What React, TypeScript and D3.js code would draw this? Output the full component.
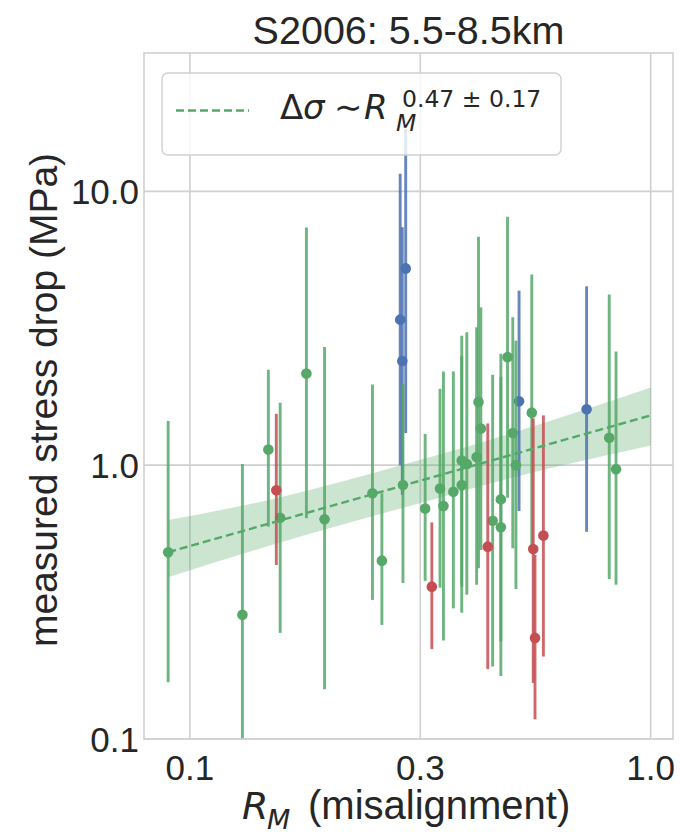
import React from "react";
import * as d3 from "d3";

// ---------- data ----------
// green series: x (R_M), y (stress drop), lower & upper error bar ends
const greenX = [0.0897, 0.130, 0.148, 0.157, 0.179, 0.196, 0.249, 0.261, 0.290, 0.324, 0.349, 0.355, 0.373, 0.389, 0.389, 0.399, 0.419, 0.423, 0.428, 0.454, 0.473, 0.473, 0.489, 0.502, 0.510, 0.552, 0.813, 0.841];
const greenY = [0.481, 0.284, 1.14, 0.643, 2.16, 0.634, 0.789, 0.448, 0.846, 0.695, 0.822, 0.709, 0.80, 0.846, 1.04, 1.01, 1.07, 1.70, 1.36, 0.627, 0.75, 0.593, 2.48, 1.31, 1.0, 1.555, 1.26, 0.967];
const greenLo = [0.161, 0.085, 0.596, 0.244, 0.64, 0.152, 0.322, 0.261, 0.371, 0.378, 0.357, 0.229, 0.30, 0.289, 0.36, 0.336, 0.366, 0.42, 0.49, 0.184, 0.227, 0.17, 0.76, 0.497, 0.353, 0.49, 0.384, 0.366];
const greenHi = [1.45, 1.01, 2.23, 1.69, 7.38, 2.70, 1.97, 0.789, 1.98, 1.30, 1.90, 2.2, 2.2, 2.5, 2.97, 3.06, 3.19, 6.83, 3.77, 2.14, 2.55, 2.1, 8.07, 3.47, 2.85, 4.97, 4.2, 2.60];

const blueX = [0.294, 0.286, 0.289, 0.518, 0.726];
const blueY = [5.23, 3.40, 2.40, 1.71, 1.60];
const blueLo = [1.31, 1.0, 0.78, 0.68, 0.571];
const blueHi = [16.9, 11.6, 7.4, 4.34, 4.5];

const redX = [0.154, 0.335, 0.443, 0.556, 0.561, 0.585];
const redY = [0.81, 0.360, 0.504, 0.494, 0.234, 0.553];
const redLo = [0.432, 0.213, 0.18, 0.16, 0.118, 0.20];
const redHi = [1.54, 0.618, 1.42, 1.48, 0.47, 1.52];

// power-law fit line and its confidence band
const fitX = [0.0897, 1.0];
const fitY = [0.481, 1.52];
const bandX = [0.0897, 0.15, 0.3, 0.5, 1.0];
const bandLo = [0.39, 0.51, 0.71, 0.90, 1.18];
const bandHi = [0.63, 0.75, 1.02, 1.31, 1.92];

// ticks
const xTickValues = [0.1, Math.pow(10, -0.5), 1.0];
const xTickLabels = ["0.1", "0.3", "1.0"];
const yTickValues = [0.1, 1, 10];
const yTickLabels = ["0.1", "1.0", "10.0"];

const titleText = "S2006: 5.5-8.5km";
const legendExponent = "0.47 ± 0.17";

// ---------- layout ----------
const W = 680;
const H = 837;
const L = 144, R = 673, T = 53, B = 739;

const GREEN = "#55a868";
const BLUE = "#4c72b0";
const RED = "#c44e52";
const GRID = "#d0d0d0";
const TXT = "#262626";
const SANS = "'Liberation Sans', Arial, Helvetica, sans-serif";
const MATH = "'DejaVu Sans', sans-serif";

export default function App() {
  const x = d3.scaleLog().domain([0.0795, 1.118]).range([L, R]);
  const y = d3.scaleLog().domain([0.1, 32]).range([B, T]);

  const bandData = bandX.map((v, i) => ({ x: v, lo: bandLo[i], hi: bandHi[i] }));
  const area = d3
    .area<{ x: number; lo: number; hi: number }>()
    .x((d) => x(d.x))
    .y0((d) => y(d.lo))
    .y1((d) => y(d.hi))
    .curve(d3.curveMonotoneX);
  const fitLine = d3
    .line<number>()
    .x((d) => x(d))
    .y((_, i) => y(fitY[i]));

  const series = [
    { xs: blueX, ys: blueY, lo: blueLo, hi: blueHi, c: BLUE },
    { xs: greenX, ys: greenY, lo: greenLo, hi: greenHi, c: GREEN },
    { xs: redX, ys: redY, lo: redLo, hi: redHi, c: RED },
  ];

  return (
    <div style={{ position: "absolute", left: 0, top: 0 }}>
      <svg width={W} height={H} style={{ display: "block", background: "#fff" }}>
        <defs>
          <clipPath id="plotclip">
            <rect x={L} y={T} width={R - L} height={B - T} />
          </clipPath>
        </defs>
        {/* title */}
        <text x={(L + R) / 2} y={44} textAnchor="middle" fontFamily={SANS} fontSize={39.5} fill={TXT}>
          {titleText}
        </text>

        {/* grid */}
        {xTickValues.map((v, i) => (
          <line key={"gx" + i} x1={x(v)} x2={x(v)} y1={T} y2={B} stroke={GRID} strokeWidth={1.6} />
        ))}
        {yTickValues.map((v, i) => (
          <line key={"gy" + i} x1={L} x2={R} y1={y(v)} y2={y(v)} stroke={GRID} strokeWidth={1.6} />
        ))}

        <g clipPath="url(#plotclip)">
          {/* band */}
          <path d={area(bandData) || ""} fill={GREEN} fillOpacity={0.3} stroke="none" />
          {/* error bars + markers */}
          {series.map((s, si) => (
            <g key={"s" + si}>
              {s.xs.map((v, i) => (
                <line
                  key={"e" + i}
                  x1={x(v)}
                  x2={x(v)}
                  y1={y(Math.max(s.lo[i], 0.05))}
                  y2={y(s.hi[i])}
                  stroke={s.c}
                  strokeWidth={2.9}
                  strokeOpacity={0.85}
                />
              ))}
              {s.xs.map((v, i) => (
                <circle key={"m" + i} cx={x(v)} cy={y(s.ys[i])} r={5.3} fill={s.c} />
              ))}
            </g>
          ))}
          {/* fit line */}
          <path
            d={fitLine(fitX) || ""}
            fill="none"
            stroke={GREEN}
            strokeWidth={2.4}
            strokeDasharray="8,4"
          />
        </g>

        {/* frame */}
        <rect x={L} y={T} width={R - L} height={B - T} fill="none" stroke={GRID} strokeWidth={1.6} />

        {/* y tick labels */}
        {yTickValues.map((v, i) => (
          <text
            key={"yl" + i}
            x={139}
            y={y(v)}
            dy="0.36em"
            textAnchor="end"
            fontFamily={SANS}
            fontSize={35}
            fill={TXT}
          >
            {yTickLabels[i]}
          </text>
        ))}
        {/* x tick labels */}
        {xTickValues.map((v, i) => (
          <text
            key={"xl" + i}
            x={x(v)}
            y={780}
            textAnchor="middle"
            fontFamily={SANS}
            fontSize={35}
            fill={TXT}
          >
            {xTickLabels[i]}
          </text>
        ))}

        {/* axis labels */}
        <text
          transform={`translate(57, ${(T + B) / 2 + 4}) rotate(-90)`}
          textAnchor="middle"
          fontFamily={SANS}
          fontSize={39}
          fill={TXT}
        >
          measured stress drop (MPa)
        </text>
        <text x={242} y={819} fontFamily={MATH} fontStyle="italic" fontSize={38} fill={TXT}>
          R
        </text>
        <text x={267} y={829} fontFamily={MATH} fontStyle="italic" fontSize={27} fill={TXT}>
          M
        </text>
        <text x={308} y={819} fontFamily={SANS} fontSize={40} fill={TXT}>
          (misalignment)
        </text>

        {/* legend */}
        <rect
          x={162}
          y={73}
          width={399}
          height={82}
          rx={6}
          ry={6}
          fill="#ffffff"
          fillOpacity={0.8}
          stroke={GRID}
          strokeWidth={1.4}
        />
        <line x1={176} x2={249} y1={110.5} y2={110.5} stroke={GREEN} strokeWidth={2.4} strokeDasharray="8,4" />
        <text x={280} y={119} fontFamily={MATH} fontSize={34} fill={TXT}>
          Δ
        </text>
        <text x={303} y={119} fontFamily={MATH} fontStyle="italic" fontSize={34} fill={TXT}>
          σ
        </text>
        <text x={334} y={119} fontFamily={MATH} fontSize={34} fill={TXT}>
          ∼
        </text>
        <text x={364} y={119} fontFamily={MATH} fontStyle="italic" fontSize={34} fill={TXT}>
          R
        </text>
        <text x={396} y={131} fontFamily={MATH} fontStyle="italic" fontSize={23.5} fill={TXT}>
          M
        </text>
        <text x={402} y={106.5} fontFamily={MATH} fontSize={23.5} fill={TXT}>
          {legendExponent}
        </text>
      </svg>
    </div>
  );
}
